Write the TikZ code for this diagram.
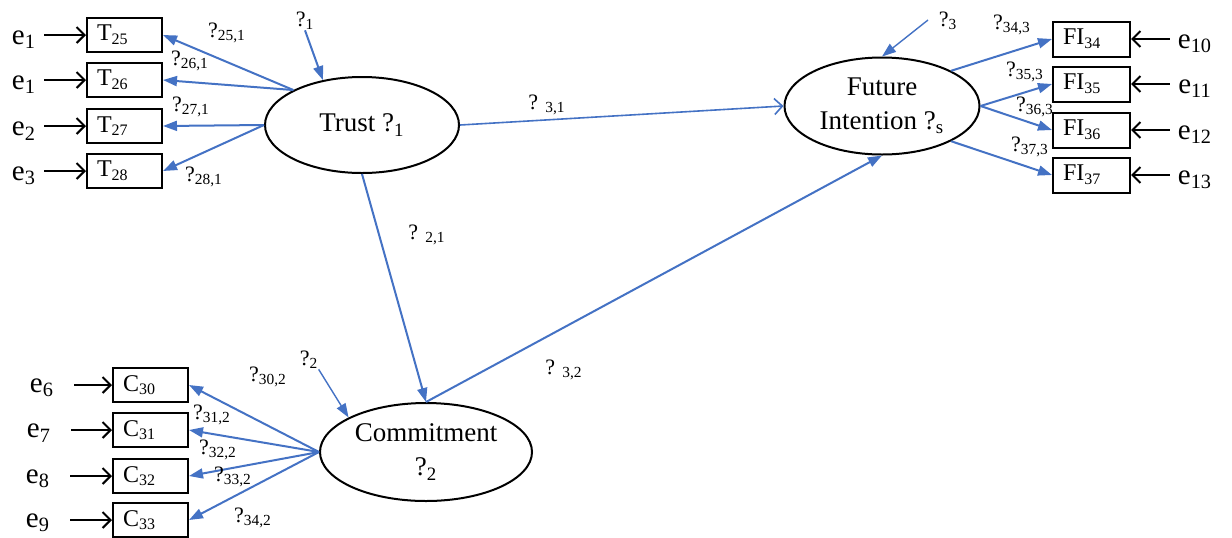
\documentclass[tikz,border=0pt]{standalone}
\usepackage{fontspec}
\setmainfont{Liberation Serif}
\usetikzlibrary{shapes.geometric,arrows.meta}
\definecolor{semblue}{RGB}{68,114,196}
\newcommand{\ix}[1]{\textsubscript{#1}}
\tikzset{
  latent/.style={ellipse,draw,line width=1pt,inner sep=0pt,align=center,
    font=\fontsize{13.5}{17}\selectfont},
  manifest/.style={rectangle,draw,line width=1pt,minimum height=17pt,
    text width=27.5pt,inner xsep=5pt,inner ysep=0pt,align=left,
    font=\fontsize{12}{13}\selectfont},
  errlab/.style={inner sep=0pt,font=\fontsize{14.5}{16}\selectfont},
  coef/.style={inner sep=0pt,font=\fontsize{11}{12}\selectfont},
  load/.style={semblue,line width=1pt,-{Triangle[length=7pt,width=5pt]}},
  openload/.style={semblue,line width=0.8pt,-{Straight Barb[length=4pt,width=8pt]}},
  zeta/.style={semblue,line width=0.7pt,-{Triangle[length=7pt,width=5pt]}},
  err/.style={black,line width=1pt,-{Straight Barb[length=4pt,width=8pt]},shorten <=4pt}
}
\begin{document}
\begin{tikzpicture}[x=0.5pt,y=-0.5pt]
\useasboundingbox (0,0) rectangle (1232,537);
% latent variables
\node[latent,minimum width=97pt,minimum height=48pt] (trust) at (362,125) {Trust ?\ix{1}};
\node[latent,minimum width=97.5pt,minimum height=48.5pt] (fi) at (882,106) {Future\\Intention ?\ix{s}};
\node[latent,minimum width=106pt,minimum height=49pt] (com) at (426,452) {Commitment\\?\ix{2}};
% trust indicators
\node[manifest] (t25) at (124.5,35) {T\ix{25}};
\node[manifest] (t26) at (124.5,80) {T\ix{26}};
\node[manifest] (t27) at (124.5,126) {T\ix{27}};
\node[manifest] (t28) at (124.5,171) {T\ix{28}};
\node[errlab] (e1a) at (24,40) {e\ix{1}};
\node[errlab] (e1b) at (24,85) {e\ix{1}};
\node[errlab] (e2) at (24,131) {e\ix{2}};
\node[errlab] (e3) at (24,176) {e\ix{3}};
\foreach \e/\t in {e1a/t25,e1b/t26,e2/t27,e3/t28}
  \draw[err] (\e.east |- \t) -- (\t.west);
% commitment indicators
\node[manifest] (c30) at (150.5,385) {C\ix{30}};
\node[manifest] (c31) at (150.5,430) {C\ix{31}};
\node[manifest] (c32) at (150.5,476) {C\ix{32}};
\node[manifest] (c33) at (150.5,520) {C\ix{33}};
\node[errlab] (e6) at (42,388) {e\ix{6}};
\node[errlab] (e7) at (39,433) {e\ix{7}};
\node[errlab] (e8) at (38,479) {e\ix{8}};
\node[errlab] (e9) at (38,523) {e\ix{9}};
\foreach \e/\c in {e6/c30,e7/c31,e8/c32,e9/c33}
  \draw[err,shorten <=10pt] (\e.east |- \c) -- (\c.west);
% future intention indicators
\node[manifest,text width=28.5pt,minimum height=17.5pt] (fi34) at (1091.5,39) {FI\ix{34}};
\node[manifest,text width=28.5pt,minimum height=17.5pt] (fi35) at (1091.5,84) {FI\ix{35}};
\node[manifest,text width=28.5pt,minimum height=17.5pt] (fi36) at (1091.5,130) {FI\ix{36}};
\node[manifest,text width=28.5pt,minimum height=17.5pt] (fi37) at (1091.5,175) {FI\ix{37}};
\node[errlab] (e10) at (1195,44) {e\ix{10}};
\node[errlab] (e11) at (1195,89) {e\ix{11}};
\node[errlab] (e12) at (1195,135) {e\ix{12}};
\node[errlab] (e13) at (1195,180) {e\ix{13}};
\foreach \e/\f in {e10/fi34,e11/fi35,e12/fi36,e13/fi37}
  \draw[err] (\e.west |- \f) -- (\f.east);
% loadings
\draw[load] (trust.153) to (t25.east);
\draw[load] (trust.153) to (t26.east);
\draw[load] (trust.west) to (t27.east);
\draw[load] (trust.west) to (t28.east);
\draw[load] (com.west) to (c30.east);
\draw[load] (com.west) to (c31.east);
\draw[load] (com.west) to (c32.east);
\draw[load] (com.west) to (c33.east);
\draw[load] (fi.27) to (fi34.west);
\draw[load] (fi.east) to (fi35.west);
\draw[load] (fi.east) to (fi36.west);
\draw[load] (fi.-27) to (fi37.west);
% structural paths
\draw[openload] (trust.east) to (fi.west);
\draw[load] (trust.south) to (com.north);
\draw[load] (com.north) to (fi.south);
% disturbances
\node[coef] (z1) at (305,21) {?\ix{1}};
\node[coef] (z2) at (309,360) {?\ix{2}};
\node[coef] (z3) at (948,21) {?\ix{3}};
\coordinate (z3s) at (928,20);
\draw[zeta,line width=1pt] (z1.south) to (trust.131);
\draw[zeta] (z2.south east) to (com.156);
\draw[zeta] (z3s) to (fi.north);
% coefficients
\node[coef] (l251) at (227,33) {?\ix{25,1}};
\node[coef] (l261) at (190,61) {?\ix{26,1}};
\node[coef] (l271) at (191,107) {?\ix{27,1}};
\node[coef] (l281) at (204,177) {?\ix{28,1}};
\node[coef] (l302) at (268,377) {?\ix{30,2}};
\node[coef] (l312) at (212,415) {?\ix{31,2}};
\node[coef] (l322) at (218,450) {?\ix{32,2}};
\node[coef] (l332) at (233,477) {?\ix{33,2}};
\node[coef] (l342) at (253,518) {?\ix{34,2}};
\node[coef] (l343) at (1012,25) {?\ix{34,3}};
\node[coef] (l353) at (1025,72) {?\ix{35,3}};
\node[coef] (l363) at (1035,107) {?\ix{36,3}};
\node[coef] (l373) at (1030,147) {?\ix{37,3}};
\node[coef] (b31) at (547,105) {? \ix{3,1}};
\node[coef] (b21) at (427,235) {? \ix{2,1}};
\node[coef] (b32) at (564,370) {? \ix{3,2}};
\end{tikzpicture}
\end{document}
